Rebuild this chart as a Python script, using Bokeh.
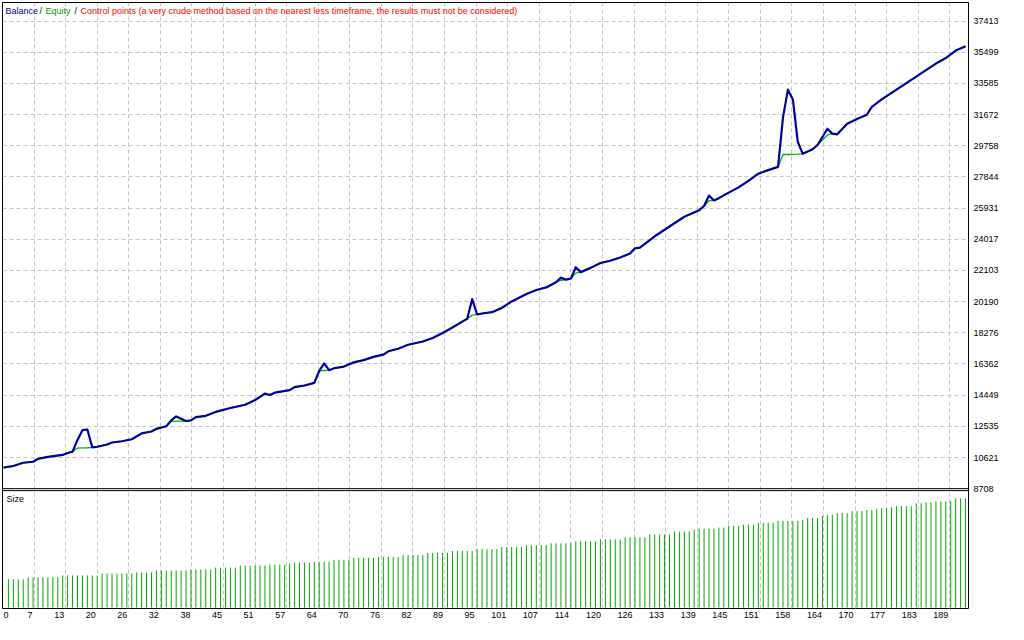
from bokeh.plotting import figure
from bokeh.models import Range1d, FixedTicker, Span, Label, ColumnDataSource
from bokeh.embed import file_html
from bokeh.resources import INLINE

# ---------------- data ----------------
trade = [0, 2, 4, 6, 7, 9, 12, 13, 14, 15, 16, 17, 18, 19, 21, 22, 24, 26, 28, 30,
         31, 33, 34, 35, 37, 38, 39, 41, 43, 46, 49, 51, 53, 54, 55, 58, 59, 61, 63, 64,
         65, 66, 67, 69, 71, 73, 75, 77, 78, 80, 82, 85, 87, 89, 91, 93, 94, 95, 96, 97,
         99, 101, 103, 106, 108, 110, 112, 113, 114, 115, 116, 117, 119, 121, 123, 125, 127, 128, 129, 132,
         135, 136, 138, 141, 142, 143, 144, 145, 147, 149, 151, 153, 155, 157, 158, 159, 160, 161, 162, 164,
         165, 167, 168, 169, 171, 173, 175, 176, 178, 181, 183, 185, 187, 189, 191, 193, 195]
balance = [10000, 10100, 10300, 10360, 10540, 10660, 10780, 10900, 10980, 11700, 12300, 12340, 11240, 11280, 11420, 11540, 11620, 11740, 12100, 12220,
           12380, 12540, 12900, 13140, 12860, 12900, 13100, 13180, 13420, 13660, 13860, 14150, 14540, 14460, 14600, 14760, 14940, 15040, 15200, 15940,
           16400, 15980, 16100, 16200, 16460, 16600, 16800, 16940, 17140, 17300, 17540, 17740, 17960, 18260, 18600, 18960, 19140, 20340, 19400, 19460,
           19540, 19800, 20200, 20660, 20900, 21060, 21380, 21660, 21540, 21600, 22300, 22000, 22260, 22560, 22700, 22900, 23140, 23460, 23500, 24200,
           24800, 25000, 25400, 25800, 26060, 26700, 26400, 26540, 26880, 27200, 27600, 28040, 28260, 28460, 31500, 33200, 32600, 30000, 29260, 29540,
           29800, 30800, 30500, 30460, 31100, 31400, 31660, 32140, 32600, 33200, 33600, 34000, 34400, 34800, 35140, 35600, 35860]
# equity differs from balance only at these trades
equity_diff = {15: 11200, 16: 11210, 17: 11220, 34: 12840, 35: 12850, 65: 15960,
               95: 19360, 113: 21500, 116: 21940, 143: 26380,
               158: 29220, 159: 29220, 160: 29230, 161: 29240, 167: 30420}
equity = [equity_diff.get(t, b) for t, b in zip(trade, balance)]

# position size per trade (run-length: level, number of trades)
size_levels = [0.29, 0.31, 0.33, 0.35, 0.36, 0.38, 0.39, 0.41, 0.43, 0.44, 0.45,
               0.46, 0.47, 0.49, 0.51, 0.52, 0.54, 0.56, 0.58, 0.60, 0.62, 0.64, 0.66, 0.68, 0.70, 0.72, 0.75, 0.78,
               0.80, 0.81, 0.82, 0.84, 0.85, 0.87, 0.89, 0.90, 0.92, 0.94, 0.95, 0.97, 0.99, 1.00, 1.01, 1.02, 1.03,
               1.04, 1.07, 1.08, 1.09, 1.12]
size_runs = [4, 7, 8, 7, 4, 7, 5, 5, 6, 4, 1,
             4, 4, 4, 5, 5, 5, 5, 5, 5, 5, 5, 5, 5, 5, 5, 5, 4,
             1, 4, 2, 3, 3, 4, 5, 1, 3, 1, 2, 3, 3, 2, 1, 2, 1, 4, 2, 2, 4, 3]
sizes = [lv for lv, n in zip(size_levels, size_runs) for _ in range(n)]
size_trade = list(range(1, len(sizes) + 1))

y_ticks = [8708, 10621, 12535, 14449, 16362, 18276, 20190, 22103, 24017, 25931,
           27844, 29758, 31672, 33585, 35499, 37413]
x_tick_labels = ["0", "7", "13", "20", "26", "32", "38", "45", "51", "57", "64", "70",
                 "76", "82", "89", "95", "101", "107", "114", "120", "126", "133", "139",
                 "145", "151", "158", "164", "170", "177", "183", "189"]

legend_parts = [("Balance", "#000080", 3), ("/", "#000000", 37), ("Equity", "#00A000", 43),
                ("/", "#000000", 72), ("Control points (a very crude method based on the nearest less timeframe, the results must not be considered)", "#FF0000", 78)]

# ---------------- layout ----------------
W, H = 1008, 624
BL, BR, BT, BB = 2, 40, 2, 16
FW, FH = W - BL - BR, H - BT - BB
X0, X1 = -0.2, 195.6
Y0, Y1 = 1353, 38549
xs = (X1 - X0) / FW
ys = (Y1 - Y0) / FH
FONT = "Liberation Sans"

p = figure(width=W, height=H, output_backend="svg", toolbar_location=None,
           x_range=Range1d(X0, X1), y_range=Range1d(Y0, Y1), y_axis_location="right",
           min_border_left=BL, min_border_right=BR, min_border_top=BT, min_border_bottom=BB)
p.extra_y_ranges = {"size": Range1d(-0.01, 6.21)}
p.background_fill_color = "white"
p.border_fill_color = "white"
p.outline_line_color = "black"
p.outline_line_width = 1

# grids
grid_pos = [round(6.4 * k - 0.2, 3) for k in range(1, 31)]
p.xgrid.ticker = FixedTicker(ticks=grid_pos)
p.ygrid.ticker = FixedTicker(ticks=y_ticks)
for g in (p.xgrid, p.ygrid):
    g.grid_line_color = "#C4C4C4"
    g.grid_line_dash = "4 3"
    g.grid_line_width = 1

# axes
lab_pos = [0.5] + [round(gp - (len(t) * 2.5 + 1.5) * xs, 3) for gp, t in zip(grid_pos, x_tick_labels[1:])]
p.xaxis.ticker = FixedTicker(ticks=lab_pos)
p.xaxis.major_label_overrides = {pos: t for pos, t in zip(lab_pos, x_tick_labels)}
p.yaxis.ticker = FixedTicker(ticks=y_ticks)
for ax in (p.xaxis, p.yaxis):
    ax.axis_line_color = None
    ax.major_tick_in = 0
    ax.major_tick_out = 0
    ax.minor_tick_line_color = None
    ax.major_label_text_font = FONT
    ax.major_label_text_font_size = "9px"
    ax.major_label_text_color = "black"
p.xaxis.major_label_standoff = 3
p.yaxis.major_label_standoff = 5

# size bars (thin 1px sticks)
p.segment(x0=size_trade, y0=[0] * len(sizes), x1=size_trade, y1=sizes,
          line_color="#00A800", line_width=1, y_range_name="size")

# equity and balance
src = ColumnDataSource(dict(trade=trade, balance=balance, equity=equity))
p.line("trade", "equity", source=src, line_color="#00B400", line_width=1.3)
p.line("trade", "balance", source=src, line_color="#0000AA", line_width=2.2, line_join="round")

# panel separators
p.add_layout(Span(location=8708, dimension="width", line_color="black", line_width=1))
p.add_layout(Span(location=1.20, dimension="width", line_color="black", line_width=1, y_range_name="size"))

# legend texts
for txt, col, px in legend_parts:
    p.add_layout(Label(x=X0 + px * xs, y=Y1 - 8 * ys, text=txt, text_color=col,
                       text_font=FONT, text_font_size="9px", text_baseline="middle", text_align="left"))
p.add_layout(Label(x=X0 + 4 * xs, y=Y1 - 496 * ys, text="Size", text_color="black",
                   text_font=FONT, text_font_size="9px", text_baseline="middle", text_align="left"))

open("out.html", "w").write(file_html(p, INLINE))
